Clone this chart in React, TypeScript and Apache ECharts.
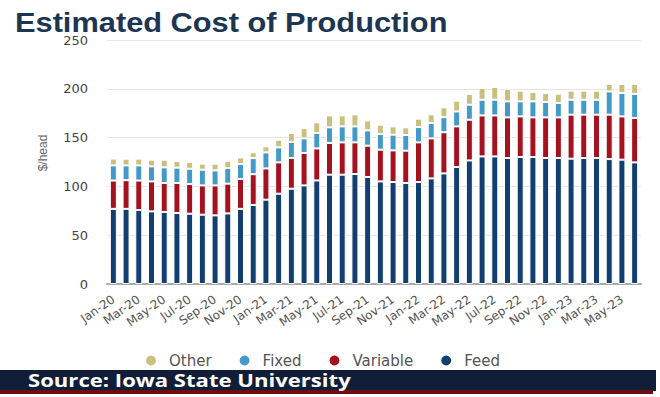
import React, { useEffect, useRef } from "react";
import * as echarts from "echarts";

const categories = [
  "Jan-20", "Feb-20", "Mar-20", "Apr-20", "May-20", "Jun-20", "Jul-20", "Aug-20", "Sep-20", "Oct-20", "Nov-20", "Dec-20",
  "Jan-21", "Feb-21", "Mar-21", "Apr-21", "May-21", "Jun-21", "Jul-21", "Aug-21", "Sep-21", "Oct-21", "Nov-21", "Dec-21",
  "Jan-22", "Feb-22", "Mar-22", "Apr-22", "May-22", "Jun-22", "Jul-22", "Aug-22", "Sep-22", "Oct-22", "Nov-22", "Dec-22",
  "Jan-23", "Feb-23", "Mar-23", "Apr-23", "May-23", "Jun-23",
];

const feed = [
  77, 77, 75.8, 74.4, 73.8, 72.7, 72, 71, 70.3, 72.3, 77, 81,
  86.4, 92.5, 97.6, 101, 106.1, 112, 112, 112.7, 109.6, 105.1, 104.5, 103.5,
  104.5, 108.2, 113.3, 119.9, 126.6, 130.7, 130.7, 129.1, 130.1, 130.1, 129.1, 129.1,
  128.4, 129.1, 129.1, 128, 127.4, 124.6,
];
const variable = [
  29, 29.4, 30.2, 30.7, 29.7, 30.8, 30.4, 30, 30.7, 30.5, 30.6, 31.5,
  32, 32.1, 31.5, 33.2, 32.8, 32.5, 33.1, 32.4, 32.1, 32.5, 32.4, 33.1,
  40.6, 41, 42.2, 41.6, 41.7, 42, 42, 41.6, 41.6, 40.6, 41.6, 41.6,
  45.1, 44.4, 44.4, 45.5, 44.3, 45.5,
];
const fixed = [
  15.5, 15.1, 15.5, 15.4, 16, 15.7, 15.7, 16.1, 15.4, 16, 15.4, 16.5,
  16.4, 15.4, 16.4, 15, 15.8, 16, 16.4, 16.4, 15.7, 16.1, 16.1, 16.1,
  15.7, 15.8, 15.4, 15.3, 15.4, 16.1, 16.1, 16.4, 15.4, 16.4, 15.7, 14.8,
  15.3, 15.3, 15.3, 23.8, 24, 24.6,
];
const other = [
  7, 6.9, 6.9, 6.9, 7.9, 6.8, 6.9, 6.2, 6.9, 7.2, 6.7, 6,
  6.2, 7.8, 9.2, 10.6, 10.9, 12.2, 11.2, 12.3, 10.2, 9.5, 8.5, 7.8,
  8.6, 8.8, 10.1, 11, 11, 12, 13, 13, 11, 9.6, 9.3, 9.5,
  9.3, 9.3, 9.3, 7.6, 9.2, 10.2,
];

const legendOrder = ["Other", "Fixed", "Variable", "Feed"];

export default function App() {
  const ref = useRef<HTMLDivElement>(null);
  useEffect(() => {
    const chart = echarts.init(ref.current!, null, { renderer: "svg" });
    const mk = (name: string, data: number[], color: string) => ({
      name,
      type: "bar",
      stack: "total",
      data,
      barWidth: 7,
      itemStyle: { color, borderColor: "#ffffff", borderWidth: 1 },
    });
    chart.setOption({
      animation: false,
      backgroundColor: "#ffffff",
      grid: { left: 107, right: 19, top: 40, bottom: 113, containLabel: false },
      legend: {
        data: legendOrder,
        left: 139,
        top: 348,
        icon: "circle",
        itemWidth: 26,
        itemHeight: 12,
        itemGap: 26,
        textStyle: { color: "#555", fontSize: 15, fontFamily: "DejaVu Sans" },
      },
      xAxis: {
        type: "category",
        data: categories,
        axisTick: { show: false },
        axisLine: { lineStyle: { color: "#aaaaaa", width: 2 } },
        axisLabel: {
          interval: 1,
          rotate: 35,
          fontSize: 12,
          color: "#555",
          margin: 14,
          fontFamily: "DejaVu Sans",
        },
      },
      yAxis: {
        type: "value",
        min: 0,
        max: 250,
        interval: 50,
        axisLine: { show: false },
        axisTick: { show: false },
        axisLabel: { fontSize: 13, color: "#444", margin: 19, fontFamily: "DejaVu Sans" },
        splitLine: { lineStyle: { color: "#e6e6e6" } },
      },
      series: [
        mk("Feed", feed, "#123f6f"),
        mk("Variable", variable, "#a3121f"),
        mk("Fixed", fixed, "#4399c8"),
        mk("Other", other, "#cbbf7e"),
      ],
      graphic: [
        {
          type: "text",
          x: 15,
          y: 9,
          scaleX: 1.14,
          style: {
            text: "Estimated Cost of Production",
            font: 'bold 27px "Liberation Sans"',
            fill: "#1c3553",
            verticalAlign: "top",
          },
        },
        {
          type: "text",
          x: 43,
          y: 153,
          rotation: Math.PI / 2,
          style: {
            text: "$/head",
            font: '12px "Liberation Sans"',
            fill: "#666",
            align: "center",
            verticalAlign: "middle",
          },
        },
        {
          type: "rect",
          shape: { x: 0, y: 370, width: 656, height: 21 },
          style: { fill: "#121d38" },
        },
        {
          type: "rect",
          shape: { x: 0, y: 390, width: 653, height: 4 },
          style: { fill: "#6a0e12" },
        },
        {
          type: "text",
          x: 28,
          y: 381,
          scaleX: 1.3,
          style: {
            text: "Source: Iowa State University",
            font: 'bold 17px "Open Sans"',
            fill: "#ffffff",
            verticalAlign: "middle",
          },
        },
      ],
    });
    return () => chart.dispose();
  }, []);
  return (
    <div
      ref={ref}
      style={{ position: "absolute", left: 0, top: 0, width: 660, height: 397 }}
    />
  );
}
